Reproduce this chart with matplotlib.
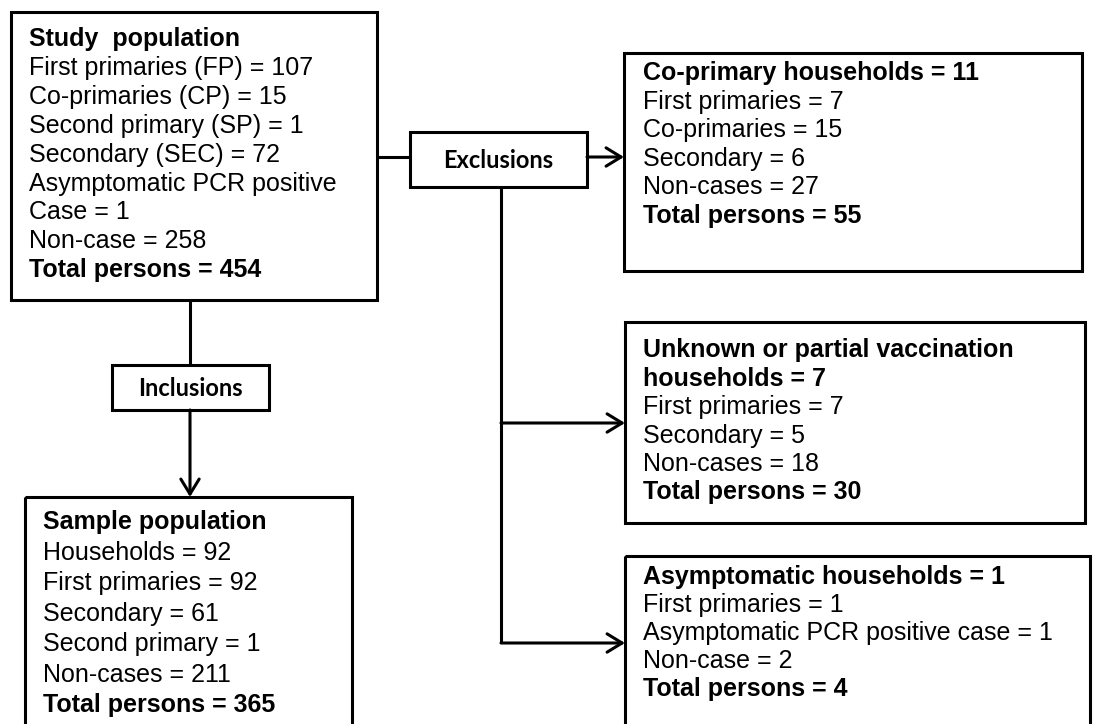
import matplotlib
matplotlib.use("Agg")
import matplotlib.pyplot as plt
from matplotlib.patches import Rectangle, FancyArrowPatch

# box contents
study_lines = ["Study  population",
               "First primaries (FP) = 107",
               "Co-primaries (CP) = 15",
               "Second primary (SP) = 1",
               "Secondary (SEC) = 72",
               "Asymptomatic PCR positive",
               "Case = 1",
               "Non-case = 258",
               "Total persons = 454"]
study_bold = [1, 0, 0, 0, 0, 0, 0, 0, 1]

sample_lines = ["Sample population",
                "Households = 92",
                "First primaries = 92",
                "Secondary = 61",
                "Second primary = 1",
                "Non-cases = 211",
                "Total persons = 365"]
sample_bold = [1, 0, 0, 0, 0, 0, 1]

coprim_lines = ["Co-primary households = 11",
                "First primaries = 7",
                "Co-primaries = 15",
                "Secondary = 6",
                "Non-cases = 27",
                "Total persons = 55"]
coprim_bold = [1, 0, 0, 0, 0, 1]

unknown_lines = ["Unknown or partial vaccination",
                 "households = 7",
                 "First primaries = 7",
                 "Secondary = 5",
                 "Non-cases = 18",
                 "Total persons = 30"]
unknown_bold = [1, 1, 0, 0, 0, 1]

asym_lines = ["Asymptomatic households = 1",
              "First primaries = 1",
              "Asymptomatic PCR positive case = 1",
              "Non-case = 2",
              "Total persons = 4"]
asym_bold = [1, 0, 0, 0, 1]

label_excl = "Exclusions"
label_incl = "Inclusions"

W, H = 1099, 724
fig = plt.figure(figsize=(W / 100, H / 100), dpi=100)
ax = fig.add_axes([0, 0, 1, 1])
ax.set_xlim(0, W)
ax.set_ylim(H, 0)
ax.axis("off")

LW = 2.2
FONT = "Liberation Sans"
FS = 18


def box(x0, y0, x1, y1, lw=LW):
    ax.add_patch(Rectangle((x0, y0), x1 - x0, y1 - y0, fill=False,
                           edgecolor="black", linewidth=lw, joinstyle="miter"))


def text_block(x, y0, step, lines, bold):
    for i, (s, b) in enumerate(zip(lines, bold)):
        ax.text(x, y0 + i * step + 9, s, fontsize=FS, family=FONT,
                fontweight="bold" if b else "normal", ha="left", va="baseline")


def line(x0, y0, x1, y1):
    ax.plot([x0, x1], [y0, y1], color="black", linewidth=LW,
            solid_capstyle="butt")


def arrow(x0, y0, x1, y1):
    ax.add_patch(FancyArrowPatch((x0, y0), (x1, y1),
                                 arrowstyle="->,head_length=0.54,head_width=0.33",
                                 mutation_scale=20, color="black", linewidth=LW,
                                 shrinkA=0, shrinkB=0))


# study population
box(11, 12, 377, 300)
text_block(29, 37, 28.9, study_lines, study_bold)

# sample population (runs off the bottom)
box(25, 497, 352, 760)
text_block(43, 520, 30.5, sample_lines, sample_bold)

# exclusion boxes
box(624, 53, 1082, 271)
text_block(643, 71, 28.6, coprim_lines, coprim_bold)

box(625, 322, 1085, 523)
text_block(643, 348, 28.5, unknown_lines, unknown_bold)

box(625, 556, 1090, 760)
text_block(643, 575, 28.0, asym_lines, asym_bold)

# label boxes
box(410, 132, 587, 187)
ax.text(498.5, 160, label_excl, fontsize=17, family="Lato",
        fontweight="bold", ha="center", va="center")
box(112, 365, 269, 410)
ax.text(190.5, 388, label_incl, fontsize=17, family="Lato",
        fontweight="bold", ha="center", va="center")

# connectors
line(190, 300, 190, 365)
arrow(190, 410, 190, 497)
line(377, 157, 410, 157)
arrow(587, 157, 624, 157)
line(501, 187, 501, 643)
arrow(501, 423, 625, 423)
arrow(501, 643, 625, 643)

fig.savefig("out.png", dpi=100)
